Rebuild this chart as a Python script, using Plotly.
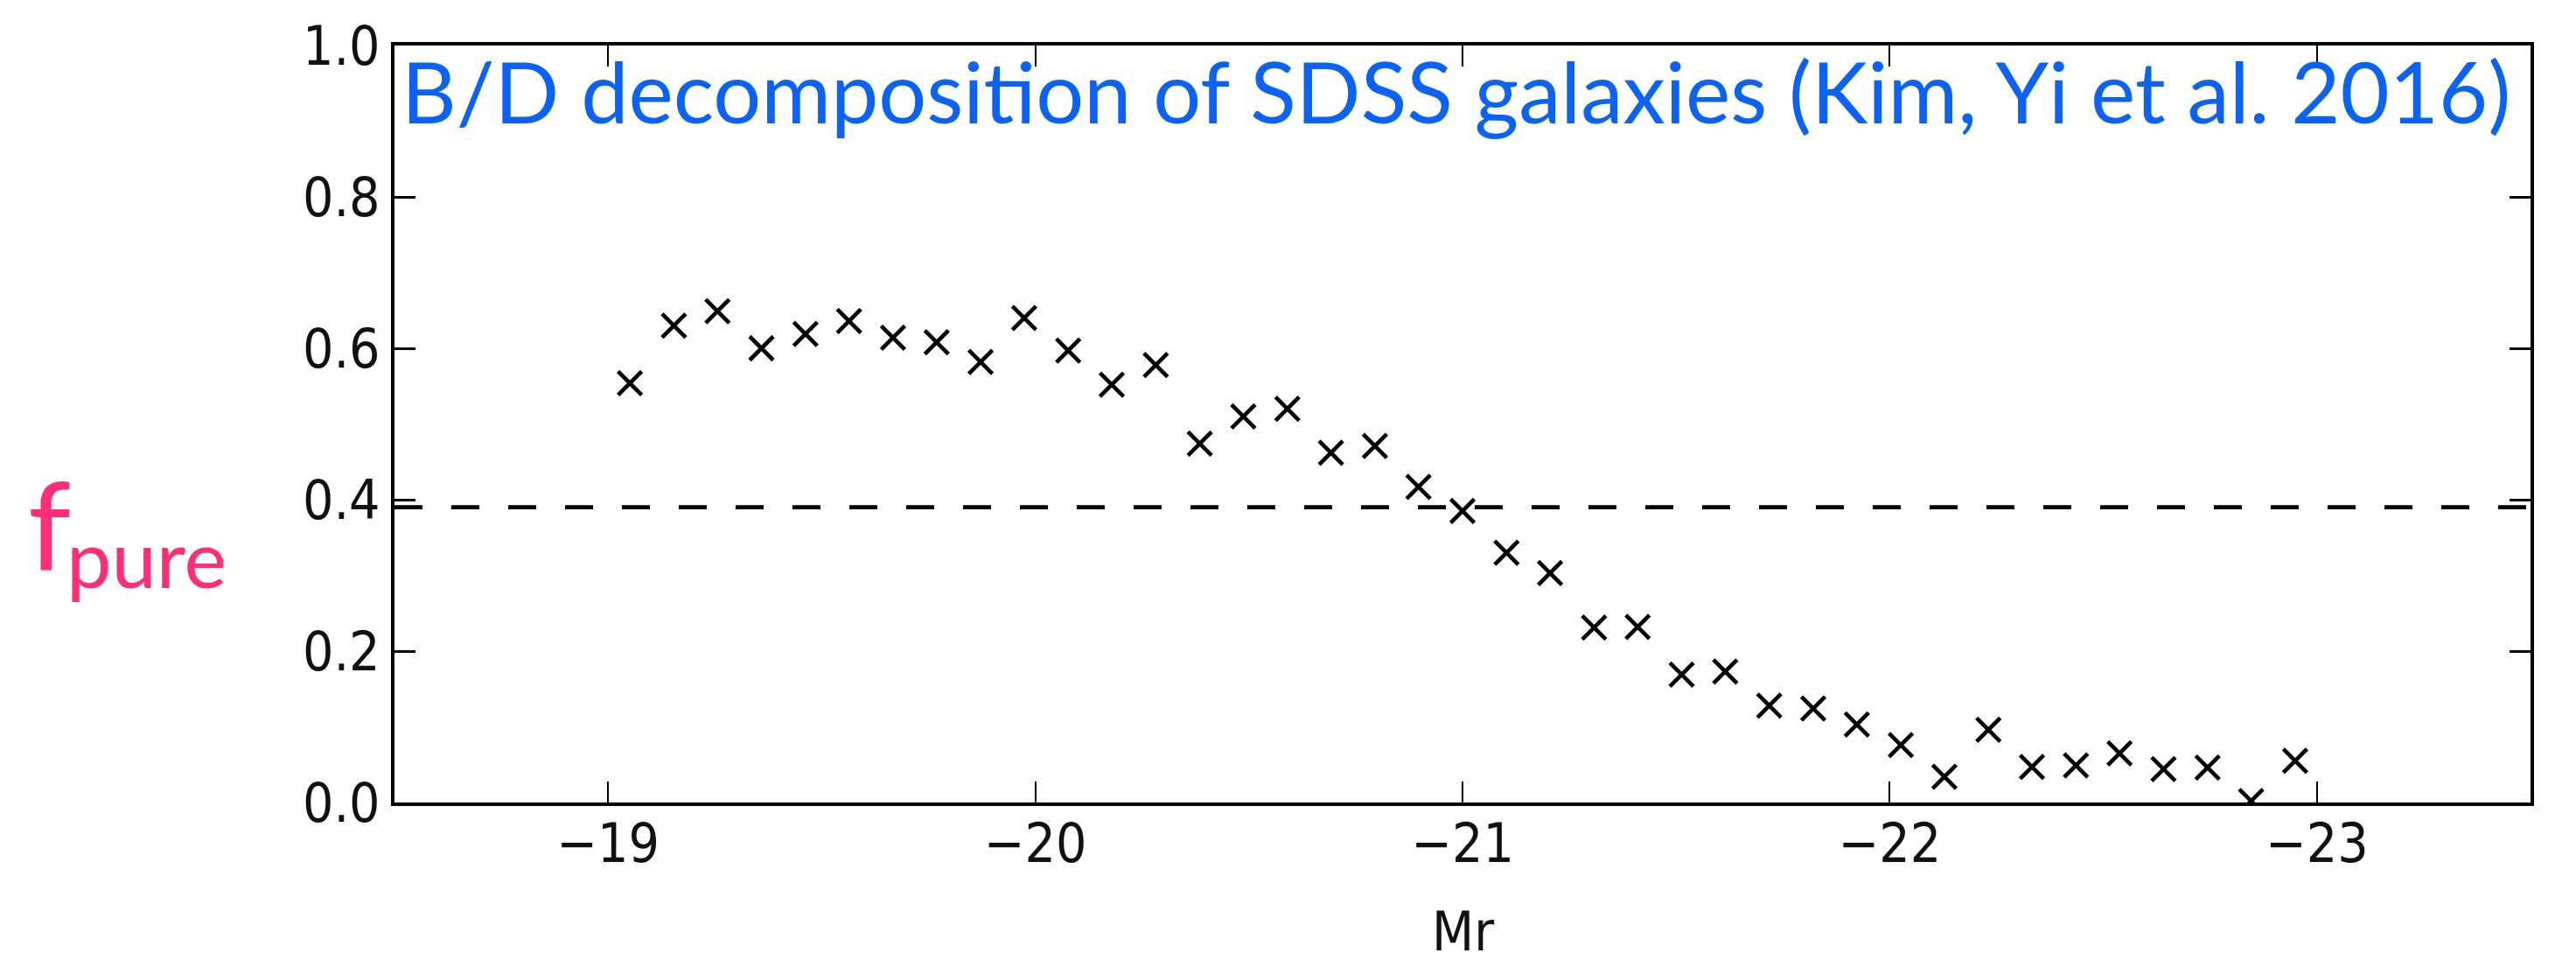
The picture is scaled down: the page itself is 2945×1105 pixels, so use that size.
import plotly.graph_objects as go

# Absolute r-band magnitude bin centres (39 bins between -19 and -23)
mr_bins = [
    -19.051, -19.154, -19.256, -19.359, -19.462, -19.564, -19.667, -19.769,
    -19.872, -19.974, -20.077, -20.179, -20.282, -20.385, -20.487, -20.590,
    -20.692, -20.795, -20.897, -21.000, -21.103, -21.205, -21.308, -21.410,
    -21.513, -21.615, -21.718, -21.821, -21.923, -22.026, -22.128, -22.231,
    -22.333, -22.436, -22.538, -22.641, -22.744, -22.846, -22.949,
]

# Fraction of pure-disc galaxies in each bin
f_pure = [
    0.554, 0.630, 0.649, 0.600, 0.619, 0.636, 0.614, 0.608, 0.582, 0.640,
    0.597, 0.552, 0.578, 0.474, 0.510, 0.520, 0.462, 0.471, 0.417, 0.385,
    0.330, 0.303, 0.231, 0.232, 0.169, 0.173, 0.128, 0.124, 0.103, 0.076,
    0.034, 0.096, 0.047, 0.049, 0.065, 0.044, 0.046, 0.002, 0.055,
]

# Reference level drawn as a dashed horizontal line
f_reference = 0.39

x_ticks = [-19, -20, -21, -22, -23]
y_ticks = [0.0, 0.2, 0.4, 0.6, 0.8, 1.0]
y_tick_labels = ["0.0", "0.2", "0.4", "0.6", "0.8", "1.0"]

x_range = [-18.5, -23.5]
y_range = [0.0, 1.0]

title_text = "B/D decomposition of SDSS galaxies (Kim, Yi et al. 2016)"
x_label = "Mr"

W, H = 2945, 1105
L, R, T, B = 451, 52, 52, 188
plot_w = W - L - R
plot_h = H - T - B


def px_to_paper_x(px):
    return (px - L) / plot_w


def px_to_paper_y(py):
    return (H - B - py) / plot_h


tick_font = dict(family="DejaVu Sans Condensed, DejaVu Sans", size=62, color="#111111")

fig = go.Figure()

fig.add_trace(go.Scatter(
    x=mr_bins,
    y=f_pure,
    mode="markers",
    marker=dict(symbol="x-thin", size=27, color="black",
                line=dict(color="black", width=4.6)),
    showlegend=False,
    cliponaxis=True,
))

fig.add_hline(y=f_reference, line=dict(color="black", width=4.8, dash="32px,33px"))

fig.update_xaxes(
    range=x_range,
    tickvals=x_ticks,
    ticks="inside",
    ticklen=24,
    tickwidth=2,
    tickcolor="black",
    showline=True,
    linewidth=4,
    linecolor="black",
    mirror="ticks",
    showgrid=False,
    zeroline=False,
    tickfont=tick_font,
    ticklabelstandoff=-10,
    automargin=False,
)

fig.update_yaxes(
    range=y_range,
    tickvals=y_ticks,
    ticktext=y_tick_labels,
    ticks="inside",
    ticklen=24,
    tickwidth=3,
    tickcolor="black",
    showline=True,
    linewidth=4,
    linecolor="black",
    mirror="ticks",
    showgrid=False,
    zeroline=False,
    tickfont=tick_font,
    ticklabelstandoff=0,
    automargin=False,
)

# x-axis label below the tick labels
fig.add_annotation(
    text=x_label,
    xref="paper", yref="paper",
    x=0.5, y=px_to_paper_y(1086 - 0.346 * 62),
    xanchor="center", yanchor="middle",
    showarrow=False,
    font=tick_font,
)

# Title text inside the top of the frame
fig.add_annotation(
    text=title_text,
    xref="paper", yref="paper",
    x=px_to_paper_x(457), y=px_to_paper_y(141 - 0.387 * 97),
    xanchor="left", yanchor="middle",
    showarrow=False,
    font=dict(family="Lato", size=97, color="#0a62f6"),
)

# f_pure axis label, built from a large "f" and a smaller subscript
fig.add_annotation(
    text="f",
    xref="paper", yref="paper",
    x=px_to_paper_x(30), y=px_to_paper_y(651 - 0.387 * 140),
    xanchor="left", yanchor="middle",
    showarrow=False,
    font=dict(family="Lato", size=140, color="#ff2e78"),
)
fig.add_annotation(
    text="pure",
    xref="paper", yref="paper",
    x=px_to_paper_x(74), y=px_to_paper_y(672 - 0.387 * 92),
    xanchor="left", yanchor="middle",
    showarrow=False,
    font=dict(family="Lato", size=92, color="#ff2e78"),
)

fig.update_layout(
    width=W,
    height=H,
    autosize=False,
    margin=dict(l=L, r=R, t=T, b=B, pad=0, autoexpand=False),
    paper_bgcolor="white",
    plot_bgcolor="white",
)

fig.write_html("out.html")
